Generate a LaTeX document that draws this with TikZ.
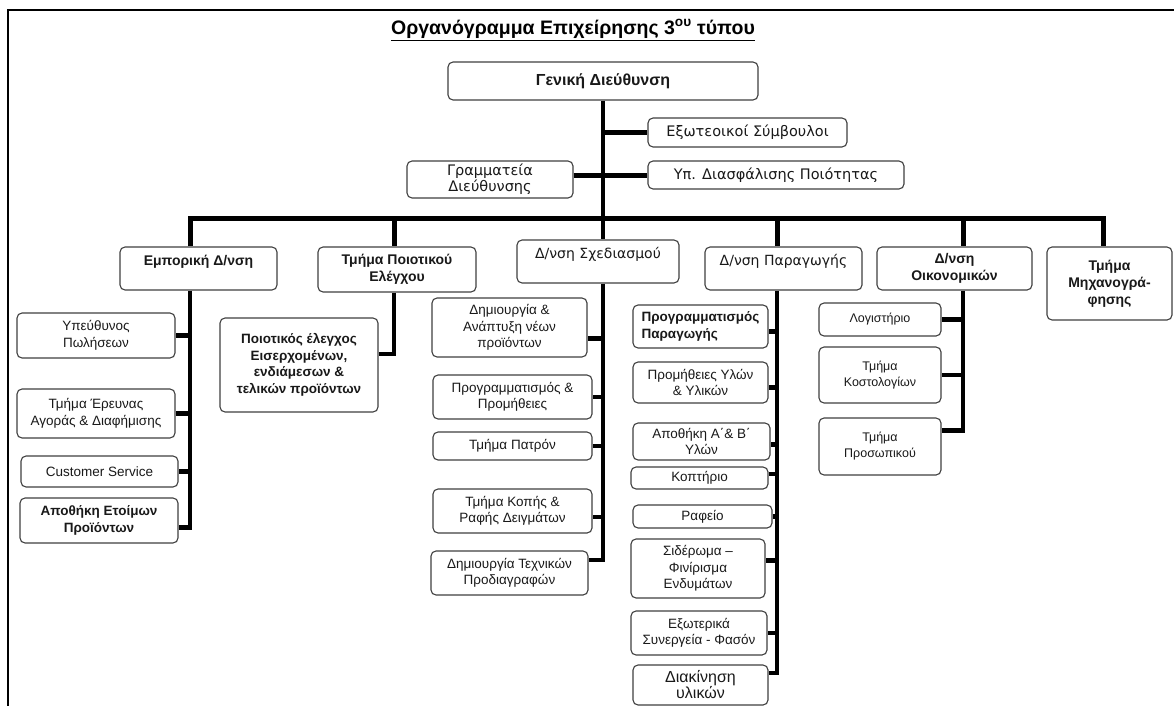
\documentclass[tikz,border=0pt]{standalone}
\usepackage{fontspec}
\setmainfont{Liberation Sans}
\newfontfamily\wideff{DejaVu Sans}
\tikzset{
  box/.style={draw=black!75, line width=1.1pt, rounded corners=5pt, align=center, inner sep=0pt, fill=white, text=black!90},
  fs/.style={font=\fontsize{13.5}{16.5}\selectfont},
  fsb/.style={font=\bfseries\fontsize{13.5}{16.5}\selectfont},
  fo/.style={font=\fontsize{12.5}{16}\selectfont},
  lvb/.style={font=\bfseries\fontsize{14}{17}\selectfont},
  lvw/.style={font=\wideff\fontsize{14}{17}\selectfont},
  topw/.style={font=\wideff\fontsize{14.5}{16}\selectfont},
  trunk/.style={line width=4pt},
  busline/.style={line width=5pt, line join=miter},
  conn/.style={line width=5pt},
  sub/.style={line width=4.5pt, line join=miter}
}
\newcommand\bx[7]{\node[box,#6,minimum width=#4pt-#2pt,minimum height=#5pt-#3pt] (#1) at ({(#2+#4)/2},{(#3+#5)/2}) {#7};}
\begin{document}
\begin{tikzpicture}[x=1pt,y=-1pt]
\useasboundingbox (0,0) rectangle (1174,706);
\fill[white] (0,0) rectangle (1174,706);
% frame
\draw[line width=2pt] (1174,10) -- (8,10) -- (8,706);
% title
\node[font=\bfseries\fontsize{19.5}{22}\selectfont] (title) at (573,30) {\underline{Οργανόγραμμα Επιχείρησης 3\textsuperscript{ου} τύπου}};
% top level
\bx{gd}{448}{62}{758}{100}{font=\bfseries\fontsize{16}{19}\selectfont}{Γενική Διεύθυνση}
\bx{es}{648}{118}{847}{147}{topw}{Εξωτεοικοί Σύμβουλοι}
\bx{yp}{648}{161}{904}{189}{topw}{Υπ. Διασφάλισης Ποιότητας}
\bx{gr}{407}{161}{573}{198}{topw}{Γραμματεία\\Διεύθυνσης}
% level 2
\bx{em}{120}{247}{277}{290}{lvb}{Εμπορική Δ/νση\\\mbox{}}
\bx{tq}{318}{247}{476}{292}{lvb}{Τμήμα Ποιοτικού\\Ελέγχου}
\bx{sx}{517}{240}{679}{283}{lvw}{Δ/νση Σχεδιασμού\\\mbox{}}
\bx{pa}{705}{247}{862}{290}{lvw}{Δ/νση Παραγωγής\\\mbox{}}
\bx{oi}{877}{247}{1032}{290}{lvb}{Δ/νση\\Οικονομικών}
\bx{mx}{1047}{247}{1172}{320}{lvb}{Τμήμα\\Μηχανογρά-\\φησης}
% Εμπορική
\bx{e1}{17}{313}{175}{358}{fs}{Υπεύθυνος\\Πωλήσεων}
\bx{e2}{17}{389}{175}{438}{fs}{Τμήμα Έρευνας\\Αγοράς \& Διαφήμισης}
\bx{e3}{21}{456}{178}{487}{fs}{Customer Service}
\bx{e4}{20}{498}{178}{543}{fsb}{Αποθήκη Ετοίμων\\Προϊόντων}
% Ποιοτικός
\bx{q1}{220}{318}{378}{412}{fsb}{Ποιοτικός έλεγχος\\Εισερχομένων,\\ενδιάμεσων \&\\τελικών προϊόντων}
% Σχεδιασμός
\bx{s1}{432}{298}{587}{357}{fs}{Δημιουργία \&\\Ανάπτυξη νέων\\προϊόντων}
\bx{s2}{433}{375}{592}{419}{fs}{Προγραμματισμός \&\\Προμήθειες}
\bx{s3}{433}{432}{592}{460}{fs}{Τμήμα Πατρόν}
\bx{s4}{433}{489}{592}{533}{fs}{Τμήμα Κοπής \&\\Ραφής Δειγμάτων}
\bx{s5}{431}{551}{588}{595}{fs}{Δημιουργία Τεχνικών\\Προδιαγραφών}
% Παραγωγή
\bx{p1}{633}{305}{768}{348}{fsb,align=left}{Προγραμματισμός\\Παραγωγής}
\bx{p2}{633}{362}{768}{403}{fs}{Προμήθειες Υλών\\\& Υλικών}
\bx{p3}{633}{423}{770}{460}{fs}{Αποθήκη Α΄\& Β΄\\Υλών}
\bx{p4}{631}{467}{768}{489}{fs}{Κοπτήριο}
\bx{p5}{633}{505}{772}{528}{fs}{Ραφείο}
\bx{p6}{631}{539}{765}{598}{fs}{Σιδέρωμα –\\Φινίρισμα\\Ενδυμάτων}
\bx{p7}{631}{611}{767}{655}{fs}{Εξωτερικά\\Συνεργεία - Φασόν}
\bx{p8}{633}{665}{768}{705}{font=\fontsize{16}{16}\selectfont}{Διακίνηση\\υλικών}
% Οικονομικά
\bx{o1}{819}{303}{941}{336}{fo}{Λογιστήριο}
\bx{o2}{819}{347}{941}{403}{fo}{Τμήμα\\Κοστολογίων}
\bx{o3}{819}{418}{941}{475}{fo}{Τμήμα\\Προσωπικού}
% trunk coordinates
\coordinate (tE) at (190,218);
\coordinate (tQ) at (394,218);
\coordinate (tS) at (603,218);
\coordinate (tP) at (777,218);
\coordinate (tO) at (963,218);
\coordinate (tM) at (1103,218);
% connector attachment points
\coordinate (ae4) at ([yshift=-7pt]e4.east);
\coordinate (aq1) at ([yshift=11pt]q1.east);
\coordinate (as1) at ([yshift=-11pt]s1.east);
\coordinate (as4) at ([yshift=-6pt]s4.east);
\coordinate (as5) at ([yshift=13pt]s5.east);
\coordinate (ap1) at ([yshift=-5pt]p1.east);
\coordinate (ap2) at ([yshift=-5pt]p2.east);
\coordinate (ap3) at ([yshift=-3pt]p3.east);
\coordinate (ap4) at ([yshift=4pt]p4.east);
\coordinate (ap6) at ([yshift=8pt]p6.east);
\coordinate (ap8) at ([yshift=12pt]p8.east);
\coordinate (ao3) at ([yshift=16pt]o3.east);
% top connectors
\draw[trunk] (gd.south) -- (tS |- sx.north);
\draw[conn] (gd.south |- es.west) -- (es.west);
\draw[conn] (gr.east |- yp.west) -- (yp.west);
% bus
\draw[busline] (tE |- em.north) -- (tE) -- (tM) -- (tM |- mx.north);
\draw[busline] (tQ) -- (tQ |- tq.north);
\draw[busline] (tP) -- (tP |- pa.north);
\draw[busline] (tO) -- (tO |- oi.north);
% Εμπορική branch
\draw[sub] (tE |- em.south) |- (ae4);
\draw[sub] (tE |- e1.east) -- (e1.east);
\draw[sub] (tE |- e2.east) -- (e2.east);
\draw[sub] (tE |- e3.east) -- (e3.east);
% Ποιοτικός branch
\draw[sub] (tQ |- tq.south) |- (aq1);
% Σχεδιασμός branch
\draw[sub] (tS |- sx.south) |- (as5);
\draw[sub] (tS |- as1) -- (as1);
\draw[sub] (tS |- s2.east) -- (s2.east);
\draw[sub] (tS |- s3.east) -- (s3.east);
\draw[sub] (tS |- as4) -- (as4);
% Παραγωγή branch
\draw[sub] (tP |- pa.south) |- (ap8);
\draw[sub] (tP |- ap1) -- (ap1);
\draw[sub] (tP |- ap2) -- (ap2);
\draw[sub] (tP |- ap3) -- (ap3);
\draw[sub] (tP |- ap4) -- (ap4);
\draw[sub] (tP |- p5.east) -- (p5.east);
\draw[sub] (tP |- ap6) -- (ap6);
\draw[sub] (tP |- p7.east) -- (p7.east);
% Οικονομικά branch
\draw[sub] (tO |- oi.south) |- (ao3);
\draw[sub] (tO |- o1.east) -- (o1.east);
\draw[sub] (tO |- o2.east) -- (o2.east);
\end{tikzpicture}
\end{document}
